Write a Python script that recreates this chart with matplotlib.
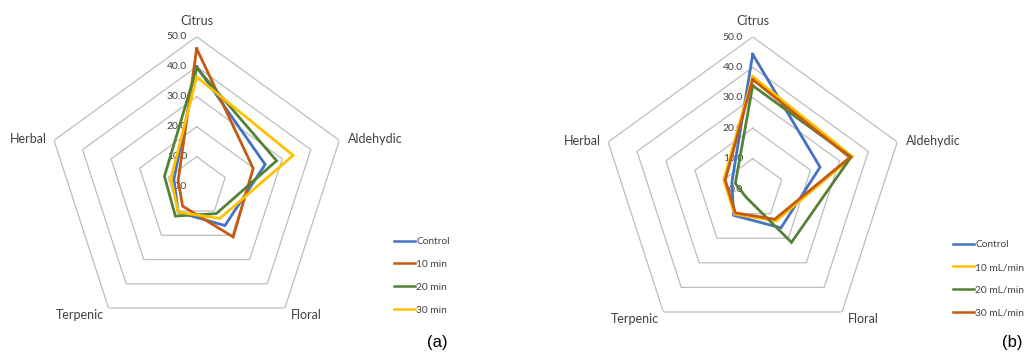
import numpy as np
import matplotlib
matplotlib.use("Agg")
import matplotlib.pyplot as plt

plt.rcParams["font.family"] = ["Lato", "DejaVu Sans"]

categories = ["Citrus", "Aldehydic", "Floral", "Terpenic", "Herbal"]
ring_values = [10, 20, 30, 40, 50]
tick_labels = ["0.0", "10.0", "20.0", "30.0", "40.0", "50.0"]

# panel (a): extraction time
labels_a = ["Control", "10 min", "20 min", "30 min"]
control_a = [40.0, 24.0, 16.0, 10.5, 8.0]
min10_a = [46.0, 19.8, 20.7, 8.0, 6.5]
min20_a = [39.6, 28.0, 11.1, 12.1, 11.3]
min30_a = [36.6, 33.8, 13.1, 10.5, 9.0]

# panel (b): flow rate
labels_b = ["Control", "10 mL/min", "20 mL/min", "30 mL/min"]
control_b = [44.3, 23.3, 15.8, 10.7, 7.2]
flow10_b = [37.0, 34.5, 13.0, 10.2, 10.0]
flow20_b = [34.0, 34.0, 21.7, 3.5, 6.0]
flow30_b = [36.0, 33.6, 12.3, 9.7, 9.5]

colors_a = ["#4472C4", "#C55A11", "#548235", "#FFC000"]
colors_b = ["#4472C4", "#FFC000", "#548235", "#C55A11"]

angles = np.linspace(0, 2 * np.pi, len(categories), endpoint=False)
closed = np.append(angles, angles[0])

fig = plt.figure(figsize=(10.26, 3.54), dpi=100)


def radar(rect, series, labels, colors, leg_anchor):
    ax = fig.add_axes(rect, projection="polar")
    ax.set_theta_offset(np.pi / 2)
    ax.set_theta_direction(-1)
    ax.set_ylim(0, 50)
    ax.grid(False)
    ax.spines["polar"].set_visible(False)
    ax.set_xticks([])
    ax.set_yticks([])
    ax.patch.set_alpha(0)

    for r in ring_values:
        ax.plot(closed, [r] * len(closed), color="#BDBDBD", lw=0.9, zorder=1)

    for vals, lab, col in zip(series, labels, colors):
        ax.plot(closed, vals + vals[:1], color=col, lw=2.0, label=lab,
                solid_joinstyle="miter", zorder=3)

    for i, t in enumerate(tick_labels):
        ax.annotate(t, (0, i * 10), xytext=(-7, 0), textcoords="offset points",
                    ha="right", va="center", fontsize=7.5, color="#404040",
                    zorder=2)

    offsets = [(0, 7, "center", "bottom"), (6, 1, "left", "center"),
               (4, -5, "left", "center"), (-3, -5, "right", "center"),
               (-5, 1, "right", "center")]
    for ang, cat, (dx, dy, ha, va) in zip(angles, categories, offsets):
        ax.annotate(cat, (ang, 50), xytext=(dx, dy), textcoords="offset points",
                    ha=ha, va=va, fontsize=9, color="#404040")

    leg = fig.legend(handles=ax.get_lines()[len(ring_values):], labels=labels,
                     loc="upper left", bbox_to_anchor=leg_anchor,
                     frameon=False, fontsize=7.3, handlelength=2.1,
                     handletextpad=0.1, labelspacing=1.36, borderaxespad=0)
    for line in leg.get_lines():
        line.set_linewidth(1.8)
    for txt in leg.get_texts():
        txt.set_color("#404040")
    return ax


radar([46.7 / 1026, 17.3 / 354, 300 / 1026, 300 / 354],
      [control_a, min10_a, min20_a, min30_a], labels_a, colors_a,
      (390 / 1026, 1 - 233 / 354))
radar([600.7 / 1026, 13 / 354, 304 / 1026, 304 / 354],
      [control_b, flow10_b, flow20_b, flow30_b], labels_b, colors_b,
      (949 / 1026, 1 - 236 / 354))

fig.text(437 / 1026, 1 - 343 / 354, "(a)", ha="center", va="center",
         fontsize=12, family=["Liberation Sans"])
fig.text(1012 / 1026, 1 - 343 / 354, "(b)", ha="center", va="center",
         fontsize=12, family=["Liberation Sans"])

fig.savefig("out.png", dpi=100)
